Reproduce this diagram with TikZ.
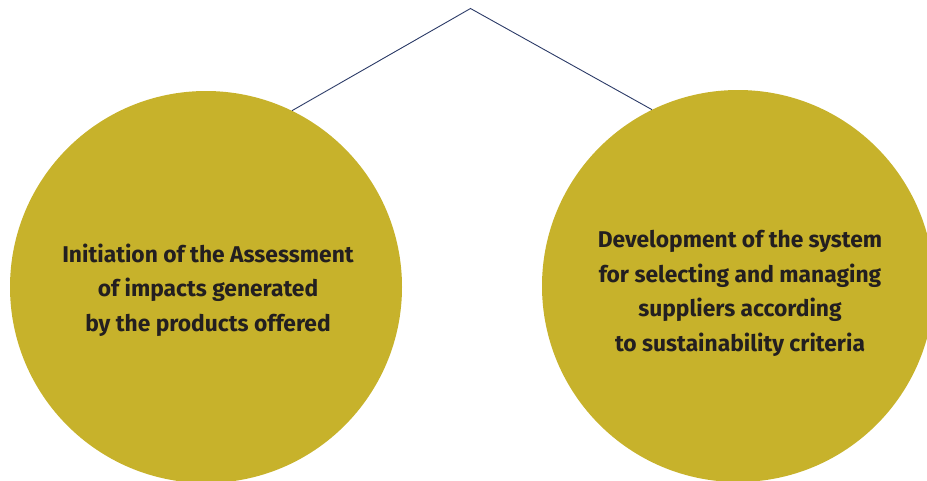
\documentclass[tikz,border=0pt]{standalone}
\usepackage{fontspec}
\setmainfont{Fira Sans}[UprightFont=* Bold, BoldFont=* Bold]
\definecolor{gold}{HTML}{C7B22B}
\definecolor{navy}{HTML}{2B3A67}
\definecolor{ink}{HTML}{231F20}
\begin{document}
\begin{tikzpicture}[x=1pt,y=-1pt,
  bubble/.style={circle, fill=gold, minimum size=392pt, inner sep=0pt},
  caption/.style={text=ink, align=center, font=\fontsize{22.8}{34.5}\selectfont},
  link/.style={draw=navy, line width=0.9pt}]
  \useasboundingbox (0,0) rectangle (927,480);
  \coordinate (apex) at (470.5,8.5);
  \node[bubble] (L) at (206,287) {};
  \node[bubble] (R) at (738,286) {};
  \draw[link] (L.64.6) -- (apex) -- (R.116);
  \node[caption] (Lt) at (208,290) {Initiation of the Assessment\\of impacts generated\\by the products offered};
  \node[caption] (Rt) at (740,293.5) {Development of the system\\for selecting and managing\\suppliers according\\to sustainability criteria};
\end{tikzpicture}
\end{document}
